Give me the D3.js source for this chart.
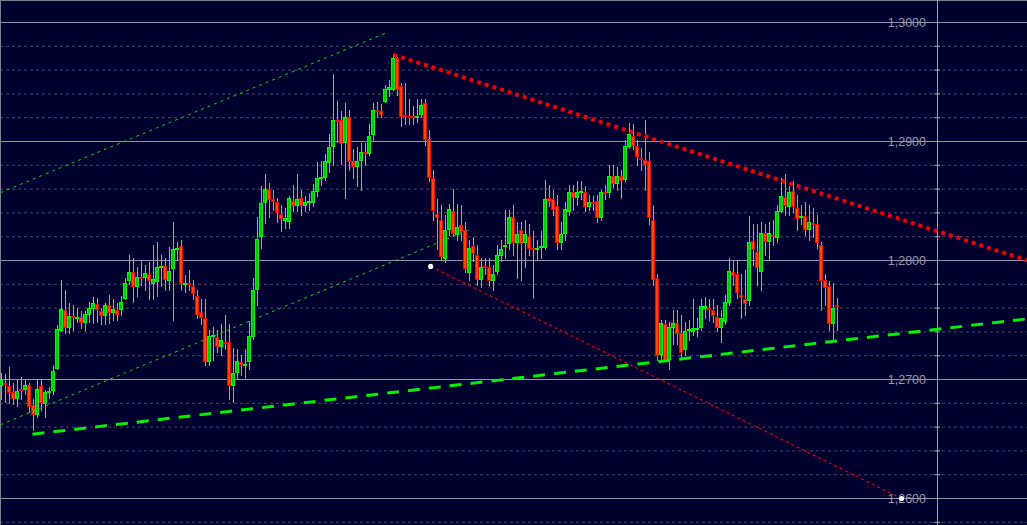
<!DOCTYPE html>
<html><head><meta charset="utf-8">
<script src="https://cdn.jsdelivr.net/npm/d3@7"></script>
<style>html,body{margin:0;padding:0;background:#000030;overflow:hidden}</style>
</head><body><svg id="c" width="1027" height="525"></svg>
<script>
// ---- data (EURUSD-like candles, prices) ----
const open = [1.2695,1.2697,1.2694,1.2689,1.2684,1.2692,1.2692,1.2695,1.2678,1.2671,1.2694,1.2680,1.2689,1.2691,1.2709,1.2741,1.2758,1.2744,1.2753,1.2751,
1.2752,1.2748,1.2755,1.2760,1.2763,1.2757,1.2754,1.2762,1.2756,1.2758,1.2759,1.2768,1.2783,1.2790,1.2778,1.2786,1.2786,1.2788,1.2781,1.2782,
1.2794,1.2795,1.2783,1.2793,1.2809,1.2812,1.2780,1.2781,1.2778,1.2770,1.2756,1.2751,1.2715,1.2736,1.2735,1.2728,1.2731,1.2731,1.2695,1.2706,
1.2714,1.2712,1.2715,1.2736,1.2776,
1.2820,1.2849,1.2860,1.2851,1.2849,1.2839,1.2834,1.2833,1.2850,1.2846,1.2852,1.2846,1.2849,1.2849,1.2858,1.2869,1.2870,1.2882,1.2896,1.2918,
1.2918,1.2899,1.2920,1.2883,1.2879,1.2884,1.2891,1.2890,1.2906,1.2926,1.2925,1.2934,1.2944,1.2944,1.2970,1.2946,1.2922,1.2921,1.2921,1.2920,
1.2923,1.2932,1.2902,1.2869,1.2839,1.2834,1.2802,1.2826,
1.2841,1.2822,1.2829,1.2825,1.2790,1.2812,1.2804,1.2784,1.2795,1.2794,1.2783,1.2791,1.2804,1.2812,1.2814,1.2836,1.2815,1.2825,1.2815,1.2820,
1.2810,1.2809,1.2811,1.2811,1.2852,1.2851,1.2845,1.2815,1.2823,1.2841,1.2857,1.2853,1.2857,1.2857,1.2845,1.2849,1.2850,1.2836,
1.2857,1.2857,1.2871,1.2865,1.2871,1.2868,1.2896,1.2904,1.2896,1.2886,1.2884,1.2883,1.2834,1.2785,1.2721,1.2746,1.2717,1.2744,1.2747,1.2739,
1.2725,1.2741,1.2740,1.2742,1.2744,1.2760,1.2760,1.2758,1.2752,1.2744,1.2749,1.2765,1.2790,1.2788,1.2771,1.2767,1.2766,1.2816,1.2807,1.2791,
1.2823,1.2816,1.2821,1.2819,1.2841,1.2853,1.2845,1.2858,1.2844,1.2836,1.2837,1.2826,1.2831,1.2830,1.2813,1.2783,1.2778,1.2747,1.2762];
const high = [1.2705,1.2704,1.2710,1.2697,1.2700,1.2702,1.2700,1.2697,1.2683,1.2699,1.2700,1.2691,1.2693,1.2712,1.2745,1.2783,1.2775,1.2764,1.2762,1.2760,
1.2757,1.2757,1.2765,1.2769,1.2768,1.2760,1.2764,1.2771,1.2767,1.2764,1.2770,1.2785,1.2804,1.2802,1.2794,1.2800,1.2796,1.2798,1.2813,1.2815,
1.2804,1.2802,1.2811,1.2832,1.2815,1.2817,1.2787,1.2792,1.2783,1.2775,1.2767,1.2767,1.2741,1.2744,1.2741,1.2746,1.2754,1.2746,1.2726,1.2725,
1.2720,1.2725,1.2749,1.2785,1.2836,
1.2862,1.2872,1.2865,1.2859,1.2852,1.2846,1.2844,1.2854,1.2863,1.2872,1.2859,1.2854,1.2856,1.2864,1.2882,1.2883,1.2889,1.2906,1.2956,1.2934,
1.2925,1.2932,1.2926,1.2893,1.2895,1.2898,1.2898,1.2914,1.2932,1.2933,1.2931,1.2947,1.2951,1.2973,1.2971,1.2949,1.2949,1.2935,1.2929,1.2935,
1.2935,1.2935,1.2909,1.2876,1.2851,1.2846,1.2838,1.2847,
1.2860,1.2847,1.2846,1.2832,1.2817,1.2819,1.2813,1.2802,1.2802,1.2802,1.2796,1.2813,1.2817,1.2842,1.2842,1.2846,1.2832,1.2832,1.2834,1.2830,
1.2824,1.2817,1.2824,1.2867,1.2863,1.2859,1.2855,1.2832,1.2849,1.2863,1.2863,1.2866,1.2866,1.2862,1.2855,1.2854,1.2855,1.2859,
1.2863,1.2880,1.2880,1.2878,1.2876,1.2901,1.2915,1.2914,1.2901,1.2894,1.2918,1.2891,1.2846,1.2788,1.2750,1.2750,1.2748,1.2758,1.2758,1.2754,
1.2748,1.2750,1.2767,1.2751,1.2767,1.2769,1.2767,1.2767,1.2762,1.2758,1.2771,1.2802,1.2799,1.2799,1.2788,1.2792,1.2837,1.2830,1.2830,1.2832,
1.2830,1.2832,1.2834,1.2846,1.2869,1.2872,1.2862,1.2866,1.2855,1.2846,1.2849,1.2846,1.2844,1.2838,1.2815,1.2788,1.2782,1.2781,1.2768];
const low = [1.2683,1.2681,1.2680,1.2679,1.2677,1.2683,1.2687,1.2672,1.2657,1.2668,1.2674,1.2668,1.2684,1.2687,1.2708,1.2740,1.2739,1.2739,1.2741,1.2748,
1.2743,1.2741,1.2748,1.2747,1.2748,1.2746,1.2746,1.2747,1.2750,1.2750,1.2754,1.2767,1.2780,1.2765,1.2770,1.2779,1.2775,1.2767,1.2767,1.2770,
1.2778,1.2775,1.2775,1.2750,1.2800,1.2775,1.2773,1.2775,1.2767,1.2751,1.2746,1.2712,1.2712,1.2716,1.2723,1.2720,1.2725,1.2683,1.2681,1.2701,
1.2703,1.2701,1.2708,1.2734,1.2762,
1.2810,1.2831,1.2836,1.2842,1.2832,1.2824,1.2827,1.2827,1.2841,1.2841,1.2838,1.2841,1.2842,1.2845,1.2854,1.2863,1.2867,1.2874,1.2880,1.2899,
1.2881,1.2852,1.2876,1.2869,1.2862,1.2859,1.2880,1.2888,1.2901,1.2920,1.2920,1.2933,1.2938,1.2943,1.2939,1.2913,1.2914,1.2914,1.2914,1.2916,
1.2920,1.2897,1.2866,1.2834,1.2809,1.2800,1.2798,1.2821,
1.2821,1.2817,1.2817,1.2790,1.2783,1.2799,1.2779,1.2777,1.2788,1.2779,1.2775,1.2788,1.2799,1.2802,1.2809,1.2804,1.2785,1.2783,1.2794,1.2804,
1.2768,1.2800,1.2802,1.2809,1.2845,1.2838,1.2809,1.2809,1.2817,1.2838,1.2842,1.2846,1.2851,1.2841,1.2842,1.2842,1.2832,1.2834,
1.2851,1.2853,1.2861,1.2859,1.2852,1.2866,1.2894,1.2893,1.2880,1.2876,1.2859,1.2830,1.2779,1.2716,1.2715,1.2715,1.2708,1.2729,1.2729,1.2718,
1.2720,1.2733,1.2737,1.2736,1.2741,1.2751,1.2750,1.2748,1.2740,1.2731,1.2746,1.2762,1.2779,1.2768,1.2751,1.2754,1.2762,1.2796,1.2779,1.2775,
1.2804,1.2800,1.2813,1.2815,1.2840,1.2838,1.2838,1.2840,1.2825,1.2830,1.2821,1.2817,1.2819,1.2810,1.2758,1.2762,1.2741,1.2734,1.2741];
const close = [1.2699,1.2696,1.2689,1.2684,1.2690,1.2691,1.2695,1.2677,1.2671,1.2692,1.2681,1.2689,1.2690,1.2707,1.2742,1.2759,1.2744,1.2753,1.2752,1.2752,
1.2748,1.2755,1.2760,1.2764,1.2759,1.2754,1.2762,1.2756,1.2759,1.2755,1.2765,1.2781,1.2790,1.2778,1.2786,1.2785,1.2789,1.2783,1.2784,1.2794,
1.2795,1.2784,1.2791,1.2809,1.2810,1.2781,1.2781,1.2780,1.2772,1.2755,1.2752,1.2715,1.2736,1.2737,1.2728,1.2733,1.2730,1.2695,1.2705,1.2715,
1.2713,1.2713,1.2736,1.2775,1.2818,
1.2848,1.2860,1.2851,1.2850,1.2840,1.2835,1.2835,1.2852,1.2846,1.2851,1.2846,1.2849,1.2850,1.2858,1.2869,1.2870,1.2883,1.2895,1.2918,1.2917,
1.2898,1.2920,1.2883,1.2879,1.2883,1.2891,1.2890,1.2904,1.2926,1.2925,1.2923,1.2944,1.2945,1.2970,1.2944,1.2921,1.2921,1.2920,1.2920,1.2921,
1.2930,1.2902,1.2870,1.2842,1.2836,1.2803,1.2825,1.2843,
1.2823,1.2828,1.2824,1.2793,1.2810,1.2806,1.2784,1.2794,1.2794,1.2783,1.2788,1.2804,1.2809,1.2813,1.2836,1.2815,1.2822,1.2814,1.2822,1.2810,
1.2809,1.2810,1.2812,1.2851,1.2850,1.2843,1.2815,1.2822,1.2843,1.2857,1.2853,1.2857,1.2858,1.2845,1.2849,1.2848,1.2836,1.2857,
1.2856,1.2871,1.2865,1.2871,1.2867,1.2896,1.2906,1.2897,1.2887,1.2885,1.2881,1.2836,1.2784,1.2720,1.2747,1.2717,1.2744,1.2747,1.2739,1.2723,
1.2740,1.2742,1.2743,1.2743,1.2761,1.2761,1.2759,1.2754,1.2744,1.2751,1.2765,1.2791,1.2787,1.2773,1.2769,1.2764,1.2815,1.2809,1.2794,1.2823,
1.2816,1.2823,1.2820,1.2841,1.2854,1.2846,1.2857,1.2845,1.2835,1.2837,1.2826,1.2832,1.2830,1.2815,1.2783,1.2777,1.2747,1.2760,1.2761];

// axis levels
const majorTicks = [1.2600, 1.2700, 1.2800, 1.2900, 1.3000];
const minorTicks = [1.2580, 1.2620, 1.2640, 1.2660, 1.2680, 1.2720, 1.2740, 1.2760, 1.2780,
                    1.2820, 1.2840, 1.2860, 1.2880, 1.2920, 1.2940, 1.2960, 1.2980];

// trendlines: [bar index, price] end points
const resistanceLine = [[98, 1.2973], [256.5, 1.2800]];     // thick red dotted
const projectionLine = [[107.3, 1.2795], [225, 1.2600]];    // thin red dotted with end dots
const supportLine    = [[7.75, 1.2654], [256.5, 1.2751]];   // thick green dashed
const channelUpper   = [[-0.25, 1.2857], [96, 1.2991]];     // thin green dotted
const channelLower   = [[-0.25, 1.2662], [117.75, 1.2827]]; // thin green dotted

// ---- drawing ----
const W = 1027, H = 525;
const svg = d3.select('#c');
svg.append('rect').attr('width', W).attr('height', H).attr('fill', '#000030');

const N = open.length;
const x = d3.scaleLinear().domain([0, N - 1]).range([1.5, 1.5 + 4 * (N - 1)]);
const y = d3.scaleLinear().domain([1.26, 1.30]).range([498.5, 22.5]);

// minor dashed grid
svg.append('g')
  .call(d3.axisRight(y).tickValues(minorTicks).tickSize(W).tickFormat('').offset(0))
  .call(g => g.select('.domain').remove())
  .call(g => g.selectAll('line').attr('stroke', '#4e4e58').attr('stroke-dasharray', '3,3'));
// major solid grid
svg.append('g')
  .call(d3.axisRight(y).tickValues(majorTicks).tickSize(W).tickFormat('').offset(0))
  .call(g => g.select('.domain').remove())
  .call(g => g.selectAll('line').attr('stroke', '#96969e'));

// frame
svg.append('line').attr('x1', 0).attr('x2', W).attr('y1', 0.5).attr('y2', 0.5).attr('stroke', '#808088');
svg.append('line').attr('x1', 0.5).attr('x2', 0.5).attr('y1', 0).attr('y2', H).attr('stroke', '#808088');
// price axis line
svg.append('line').attr('x1', 937.5).attr('x2', 937.5).attr('y1', 0).attr('y2', H).attr('stroke', '#a0a0a8');
// minor ticks on axis
svg.append('g').attr('transform', 'translate(940,0)')
  .call(d3.axisLeft(y).tickValues(minorTicks).tickSize(6).tickFormat('').offset(0))
  .call(g => g.select('.domain').remove())
  .call(g => g.selectAll('line').attr('stroke', '#a0a0a8'));
// labels
const loc = d3.formatLocale({decimal: ',', thousands: '.', grouping: [3], currency: ['', '']});
svg.append('g').attr('transform', 'translate(937,0)')
  .call(d3.axisLeft(y).tickValues(majorTicks).tickSize(0).tickPadding(11).tickFormat(loc.format('.4f')).offset(0))
  .call(g => g.select('.domain').remove())
  .call(g => g.selectAll('text').attr('fill', '#9a9aa8').attr('font-family', 'Liberation Sans, Arial, sans-serif').attr('font-size', 12.5));

// candles
const idx = d3.range(N);
const cg = svg.append('g').attr('shape-rendering', 'crispEdges');
cg.selectAll('line.w').data(idx).join('line').attr('class', 'w')
  .attr('x1', i => x(i)).attr('x2', i => x(i))
  .attr('y1', i => Math.floor(y(high[i]))).attr('y2', i => Math.floor(y(low[i])) + 1)
  .attr('stroke', '#a4a4a4');
const up = i => close[i] >= open[i];
const topPx = i => Math.floor(Math.min(y(open[i]), y(close[i])));
const botPx = i => Math.floor(Math.max(y(open[i]), y(close[i])));
cg.selectAll('rect.b').data(idx).join('rect').attr('class', 'b')
  .attr('x', i => x(i) - 2.5).attr('width', 4)
  .attr('y', i => topPx(i)).attr('height', i => botPx(i) - topPx(i) + 1)
  .attr('fill', i => up(i) ? '#00ff00' : '#ff0000');
cg.selectAll('rect.f').data(idx.filter(i => botPx(i) - topPx(i) >= 2)).join('rect').attr('class', 'f')
  .attr('x', i => x(i) - 1.5).attr('width', 2)
  .attr('y', i => topPx(i) + 1).attr('height', i => botPx(i) - topPx(i) - 1)
  .attr('fill', i => up(i) ? '#00c800' : '#ff4a00');

// trendlines
const line = d3.line().x(d => x(d[0])).y(d => y(d[1]));
const tl = svg.append('g');
tl.append('path').attr('d', line(channelUpper)).attr('fill', 'none').attr('stroke', '#00e000').attr('stroke-width', 1).attr('stroke-dasharray', '3,4');
tl.append('path').attr('d', line(channelLower)).attr('fill', 'none').attr('stroke', '#00e000').attr('stroke-width', 1).attr('stroke-dasharray', '3,4');
tl.append('path').attr('d', line(projectionLine)).attr('fill', 'none').attr('stroke', '#e00000').attr('stroke-width', 1.2).attr('stroke-dasharray', '3,3');
tl.append('path').attr('d', line(supportLine)).attr('fill', 'none').attr('stroke', '#00f000').attr('stroke-width', 3).attr('stroke-dasharray', '12,9');
tl.append('path').attr('d', line(resistanceLine)).attr('fill', 'none').attr('stroke', '#f00000').attr('stroke-width', 4).attr('stroke-dasharray', '4,4');
tl.selectAll('circle').data(projectionLine).join('circle')
  .attr('cx', d => x(d[0])).attr('cy', d => y(d[1])).attr('r', 2.6).attr('fill', '#ffffff');
</script></body></html>
